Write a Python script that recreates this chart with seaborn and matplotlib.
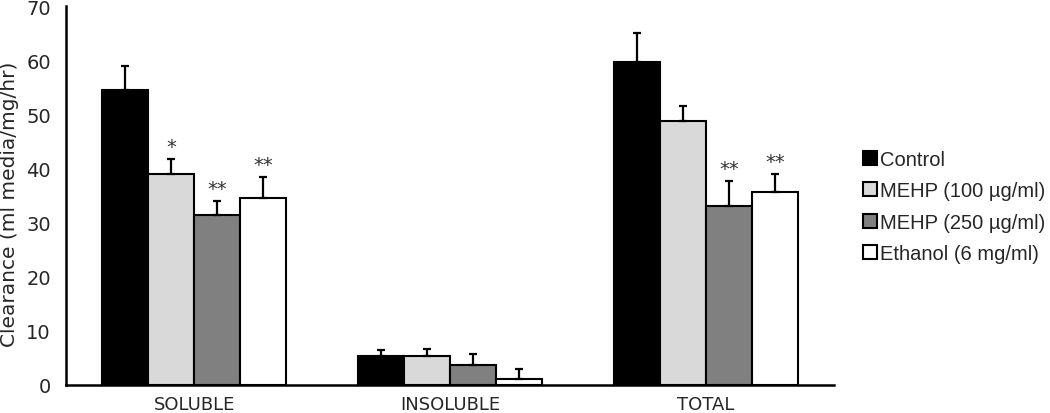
import pandas as pd
import matplotlib
matplotlib.use("Agg")
import matplotlib.pyplot as plt
import seaborn as sns

fractions = ["SOLUBLE", "INSOLUBLE", "TOTAL"]
treatments = ["Control", "MEHP (100 µg/ml)", "MEHP (250 µg/ml)", "Ethanol (6 mg/ml)"]
colors = ["#000000", "#d9d9d9", "#808080", "#ffffff"]

# mean clearance per treatment, in fraction order
control = [54.5, 5.3, 59.7]
mehp100 = [39.0, 5.4, 48.8]
mehp250 = [31.4, 3.7, 33.1]
ethanol = [34.6, 1.1, 35.6]

# upper error (SD) per treatment
control_err = [4.5, 1.2, 5.3]
mehp100_err = [2.7, 1.2, 2.7]
mehp250_err = [2.5, 2.0, 4.6]
ethanol_err = [3.8, 1.9, 3.4]

# significance marks
control_sig = ["", "", ""]
mehp100_sig = ["*", "", ""]
mehp250_sig = ["**", "", "**"]
ethanol_sig = ["**", "", "**"]

means = [control, mehp100, mehp250, ethanol]
errs = [control_err, mehp100_err, mehp250_err, ethanol_err]
sigs = [control_sig, mehp100_sig, mehp250_sig, ethanol_sig]

rows = []
for t, vals in zip(treatments, means):
    for f, v in zip(fractions, vals):
        rows.append({"Fraction": f, "Treatment": t, "Clearance": v})
df = pd.DataFrame(rows)

sns.set_style("white")
plt.rcParams["font.family"] = ["DejaVu Sans"]

fig = plt.figure(figsize=(10.5, 4.14), dpi=100)
ax = fig.add_axes([0.063, 0.068, 0.731, 0.915])

sns.barplot(data=df, x="Fraction", y="Clearance", hue="Treatment",
            order=fractions, hue_order=treatments, palette=colors,
            width=0.72, edgecolor="black", linewidth=1.5, errorbar=None,
            saturation=1, ax=ax)

for cont, e, s in zip(ax.containers, errs, sigs):
    xs = [b.get_x() + b.get_width() / 2 for b in cont]
    ys = [b.get_height() for b in cont]
    ax.errorbar(xs, ys, yerr=[[0] * len(e), e], fmt="none", ecolor="black",
                elinewidth=1.6, capsize=3, capthick=1.6, zorder=1)
    for x, y, ee, mark in zip(xs, ys, e, s):
        if mark:
            ax.text(x, y + ee + 0.6, mark, ha="center", va="bottom",
                    fontsize=14, color="#333333")

ax.set_ylim(0, 70)
ax.set_xlim(-0.5, 2.5)
ax.set_yticks(range(0, 71, 10))
ax.set_xlabel("")
ax.set_ylabel("Clearance (ml media/mg/hr)", fontsize=14.5)
ax.yaxis.set_label_coords(-0.0615, 0.48)
ax.tick_params(axis="y", length=0, labelsize=14, pad=11)
ax.tick_params(axis="x", length=0, labelsize=13, pad=7)
for side in ["top", "right"]:
    ax.spines[side].set_visible(False)
for side in ["left", "bottom"]:
    ax.spines[side].set_linewidth(1.8)
    ax.spines[side].set_color("black")

ax.legend(loc="upper left", bbox_to_anchor=(0.814, 0.655),
          bbox_transform=fig.transFigure, frameon=False,
          prop={"family": "Liberation Sans", "size": 14.5},
          handlelength=0.7, handleheight=0.7, handletextpad=0.15,
          labelspacing=0.62, borderaxespad=0)

plt.savefig("out.png", dpi=100)
